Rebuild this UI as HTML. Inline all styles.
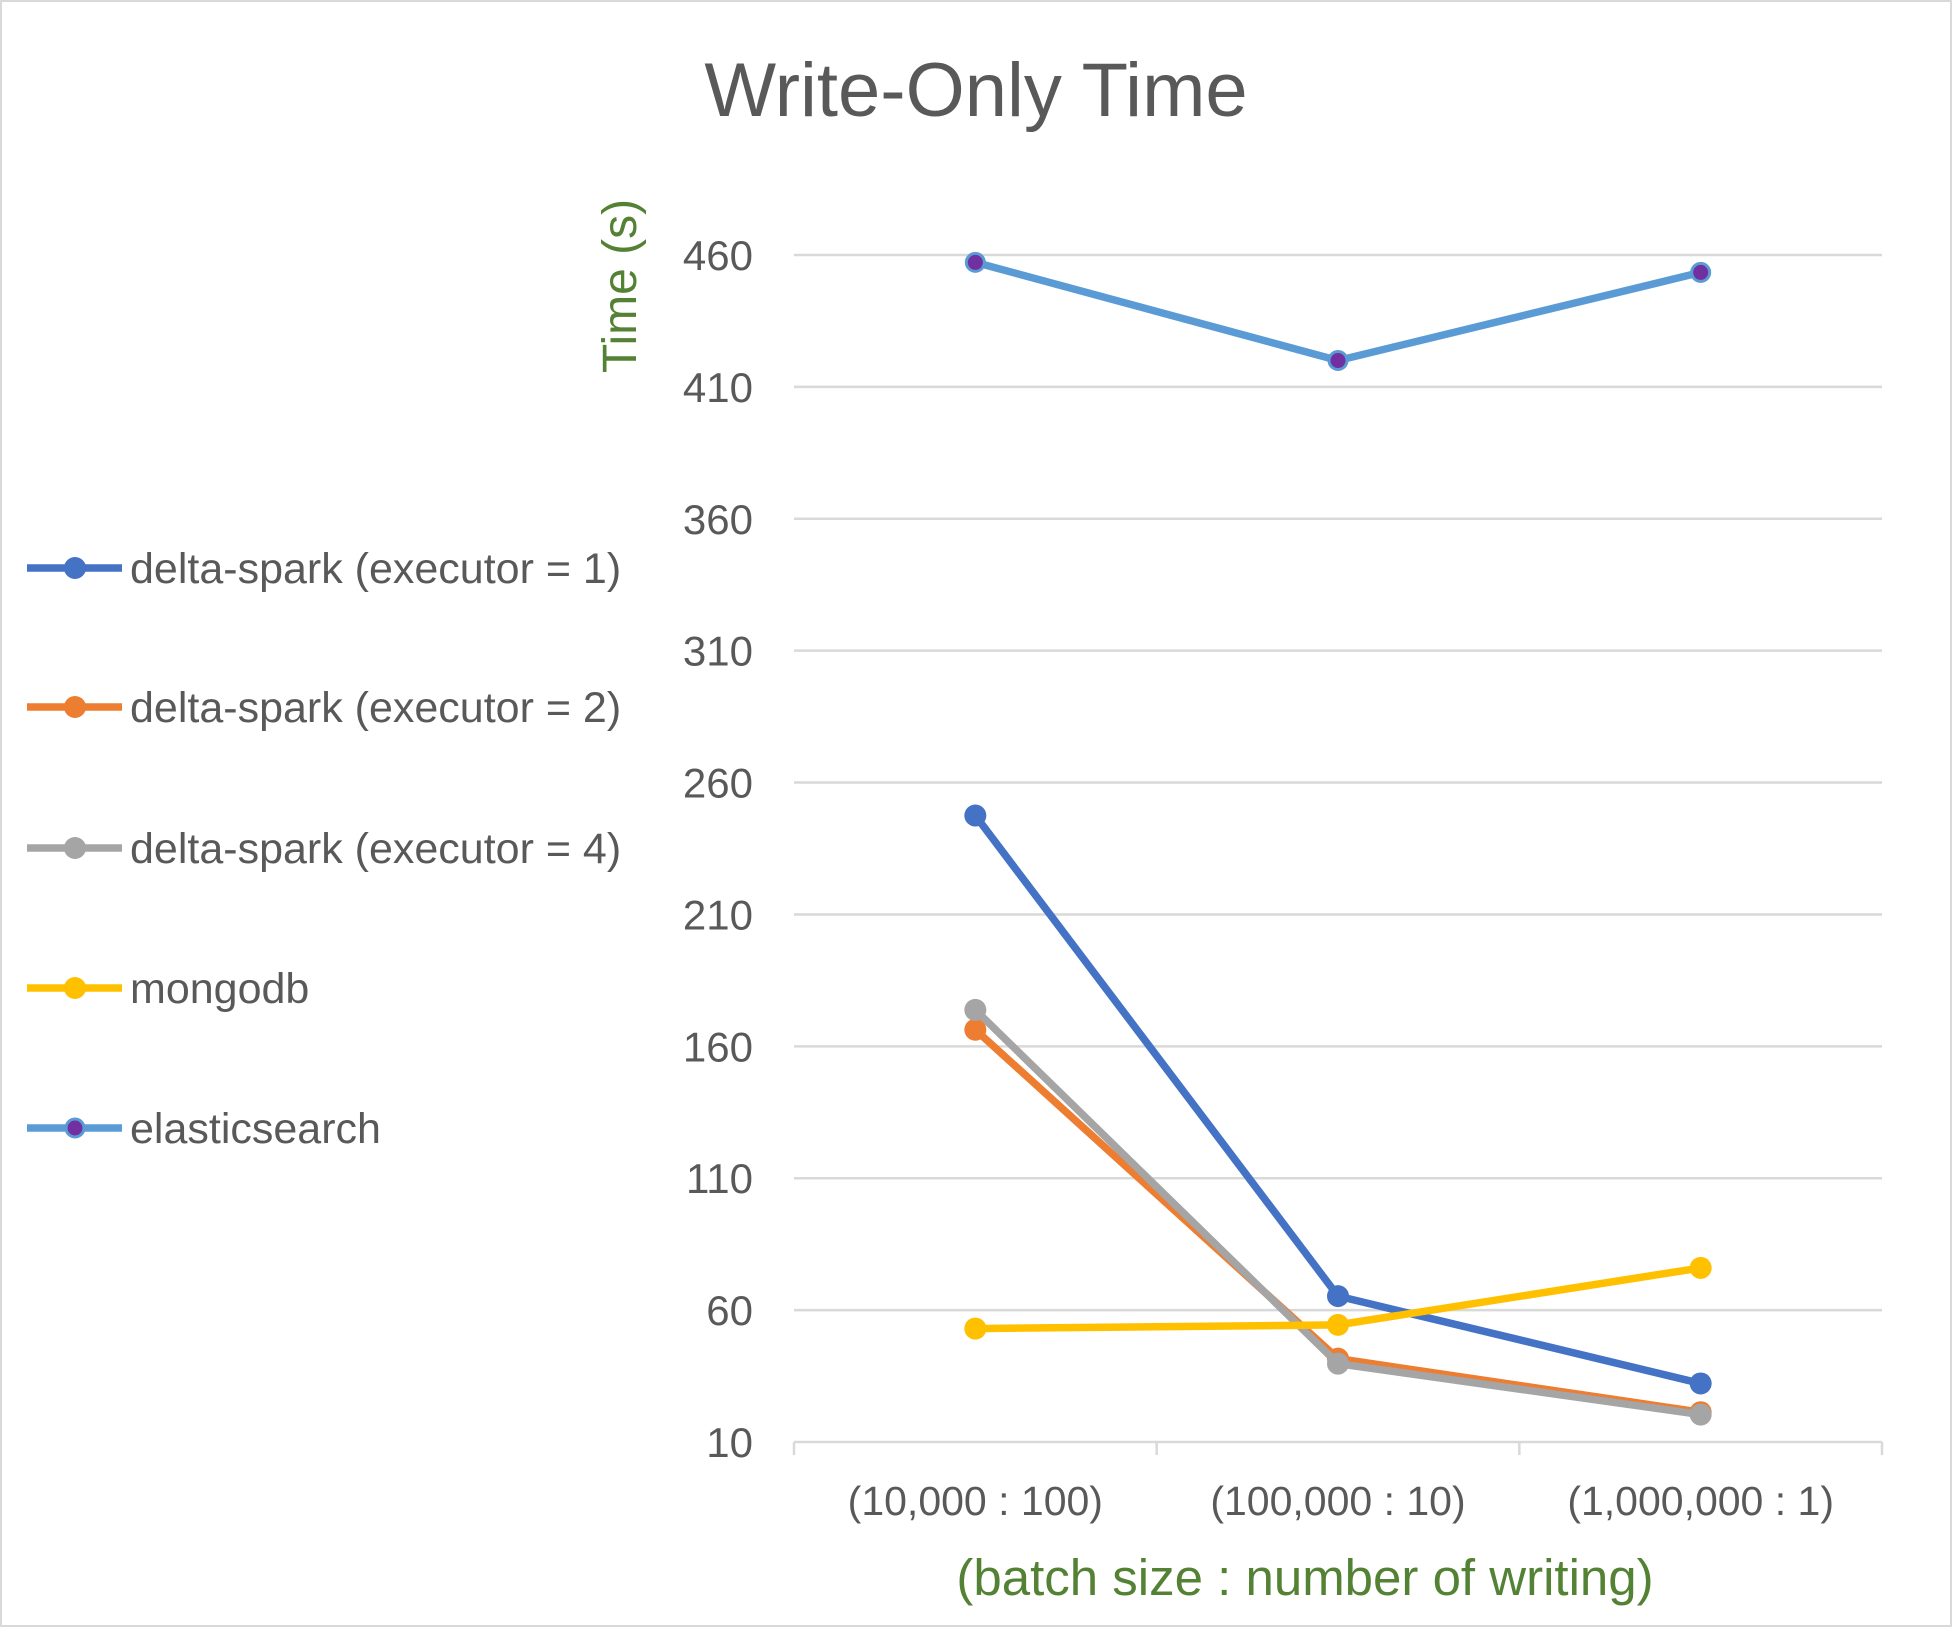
<!DOCTYPE html>
<html><head><meta charset="utf-8"><style>
html,body{margin:0;padding:0;background:#fff}
svg{display:block;font-family:"Liberation Sans",sans-serif}
</style></head><body>
<svg id="chart" width="1952" height="1627" viewBox="0 0 1952 1627">
<rect x="1" y="1" width="1950" height="1625" fill="#fff" stroke="#d9d9d9" stroke-width="2"/>
<text x="976" y="116" text-anchor="middle" font-size="76" fill="#595959">Write-Only Time</text>
<text transform="translate(636,286) rotate(-90)" text-anchor="middle" font-size="48" fill="#548235">Time (s)</text>
<text x="1305" y="1595" text-anchor="middle" font-size="51" fill="#548235">(batch size : number of writing)</text>
<g id="grid"></g><g id="axes"></g><g id="series"></g><g id="legend"></g>
</svg>
<script>
const categories = ["(10,000 : 100)", "(100,000 : 10)", "(1,000,000 : 1)"];
const yTicks = [10, 60, 110, 160, 210, 260, 310, 360, 410, 460];
const seriesNames = ["delta-spark (executor = 1)", "delta-spark (executor = 2)", "delta-spark (executor = 4)", "mongodb", "elasticsearch"];
const exec1 = [247.5, 65.3, 32.2];
const exec2 = [166.3, 41.6, 21.3];
const exec4 = [173.8, 39.7, 20.4];
const mongodb = [53, 54.4, 76];
const elasticsearch = [457.2, 420, 453.4];
const colors = ["#4472c4", "#ed7d31", "#a5a5a5", "#ffc000", "#5b9bd5"];
const allSeries = [exec1, exec2, exec4, mongodb, elasticsearch];

const NS = "http://www.w3.org/2000/svg";
const X0 = 794, X1 = 1882, Y0 = 1442, Y1 = 255;
function y(v){ return Y0 - (v - 10) / 450 * (Y0 - Y1); }
function x(i){ const w = (X1 - X0) / categories.length; return X0 + w * (i + 0.5); }
function mk(tag, attrs, parent){ const e = document.createElementNS(NS, tag); for (const k in attrs) e.setAttribute(k, attrs[k]); parent.appendChild(e); return e; }

const grid = document.getElementById("grid");
const axes = document.getElementById("axes");
yTicks.forEach(t => {
  if (t !== 10) {
    const l = mk("line", {x1: X0, x2: X1, y1: y(t), y2: y(t), stroke: "#d9d9d9", "stroke-width": 2.5}, grid);
    
    
  }
  const tx = mk("text", {x: 753, y: y(t) + 15, "text-anchor": "end", "font-size": 42, fill: "#595959"}, axes);
  tx.textContent = t;
  
  
});
const ax = mk("line", {x1: X0, x2: X1, y1: Y0, y2: Y0, stroke: "#d9d9d9", "stroke-width": 2.5}, axes);


for (let i = 0; i <= categories.length; i++) {
  const xx = X0 + (X1 - X0) / categories.length * i;
  const tk = mk("line", {x1: xx, x2: xx, y1: Y0, y2: Y0 + 13, stroke: "#d9d9d9", "stroke-width": 2.5}, axes);
  
  
}
categories.forEach((c, i) => {
  const tx = mk("text", {x: x(i), y: 1515, "text-anchor": "middle", "font-size": 41, fill: "#595959"}, axes);
  tx.textContent = c;
  
  
});

const sg = document.getElementById("series");
allSeries.forEach((vals, s) => {
  const g = mk("g", {}, sg);
  
  
  const pts = vals.map((v, i) => x(i) + "," + y(v)).join(" ");
  const pl = mk("polyline", {points: pts, fill: "none", stroke: colors[s], "stroke-width": 7.5, "stroke-linejoin": "round"}, g);
  
  
  vals.forEach((v, i) => {
    const c = mk("circle", {cx: x(i), cy: y(v), r: s === 4 ? 9 : 11, fill: s === 4 ? "#7030a0" : colors[s], stroke: colors[s], "stroke-width": s === 4 ? 3 : 0}, g);
    
    
  });
});

const lg = document.getElementById("legend");
const legendY = [568, 707, 848, 988, 1128];
seriesNames.forEach((n, s) => {
  const g = mk("g", {}, lg);
  
  
  mk("line", {x1: 27, x2: 122, y1: legendY[s], y2: legendY[s], stroke: colors[s], "stroke-width": 7.5}, g);
  mk("circle", {cx: 75, cy: legendY[s], r: s === 4 ? 9 : 11, fill: s === 4 ? "#7030a0" : colors[s], stroke: colors[s], "stroke-width": s === 4 ? 3 : 0}, g);
  const t = mk("text", {x: 130, y: legendY[s] + 15, "font-size": 43, fill: "#595959"}, g);
  t.textContent = n;
});
</script>
</body></html>
